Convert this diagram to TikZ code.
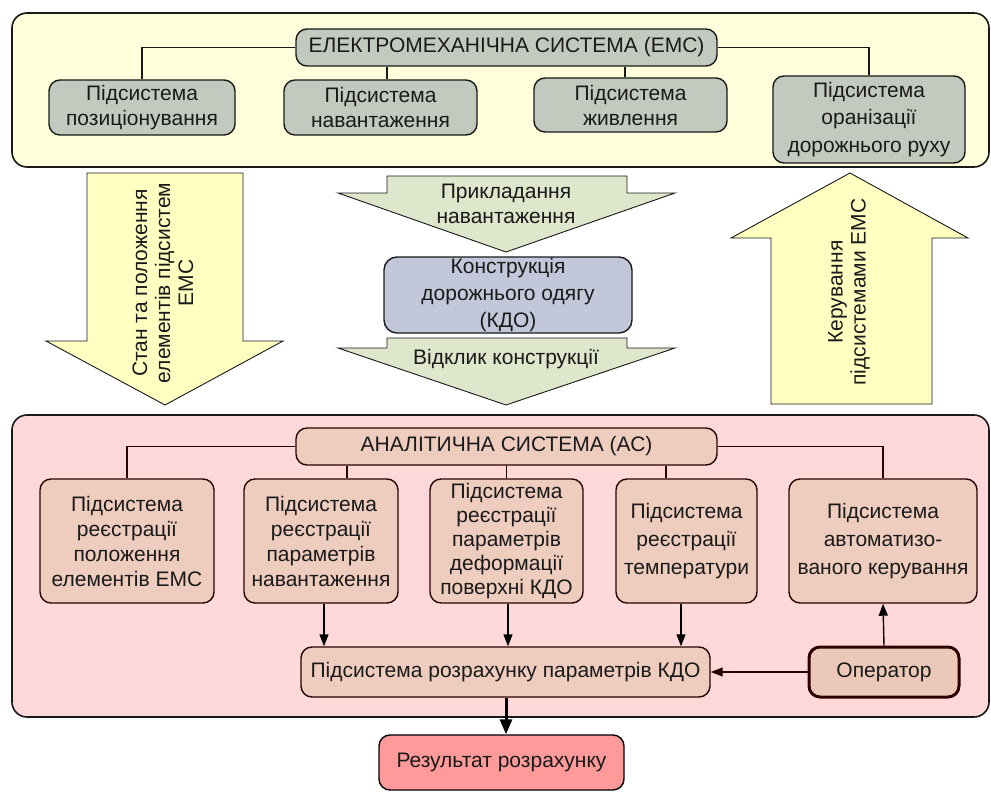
\documentclass[tikz,border=0pt]{standalone}
\usepackage{fontspec}
\setmainfont{Liberation Sans}
\usetikzlibrary{arrows.meta}
\definecolor{topbg}{HTML}{FFFFDC}
\definecolor{botbg}{HTML}{FFD9D9}
\definecolor{emsbox}{HTML}{C2C9BE}
\definecolor{kdobox}{HTML}{C2C8D9}
\definecolor{acbox}{HTML}{EECCBE}
\definecolor{resbox}{HTML}{FF9A9A}
\definecolor{yarrow}{HTML}{FFFFC2}
\definecolor{garrow}{HTML}{DEE6CC}
\definecolor{maroon}{HTML}{2E0000}
\definecolor{txt}{HTML}{1A1A1A}
\begin{document}
\begin{tikzpicture}[x=1pt,y=-1pt,
  every node/.style={font=\fontsize{21}{25}\selectfont, text=txt, align=center, inner sep=0pt},
  sp/.style={font=\fontsize{21}{#1}\selectfont},
  container/.style={draw=black!90, line width=1.6pt, rounded corners=15pt},
  gbox/.style={draw=black!90, line width=1.4pt, fill=emsbox, rounded corners=11pt},
  abox/.style={draw=maroon, line width=1.4pt, fill=acbox, rounded corners=11pt},
  bigarrow/.style={draw=black!90, line width=0.9pt},
  link/.style={draw=black!90, line width=1.4pt},
  alink/.style={draw=maroon, line width=1.4pt},
  darr/.style={draw=black, line width=1.4pt, -{Triangle[length=12pt,width=9pt]}},
]
\useasboundingbox (0,0) rectangle (991,792);

% containers
\draw[container, fill=topbg] (12,13) rectangle (989,167);
\draw[container, fill=botbg] (12,415) rectangle (989,717);

% EMS
\node[gbox, minimum width=421pt, minimum height=37pt] (ems) at (506.5,47.5) {ЕЛЕКТРОМЕХАНІЧНА СИСТЕМА (ЕМС)};
\node[gbox, minimum width=186pt, minimum height=55pt] (pos) at (142,107.5) {Підсистема\\позиціонування};
\node[gbox, minimum width=193pt, minimum height=55pt] (nav) at (380.5,107.5) {Підсистема\\навантаження};
\node[gbox, minimum width=193pt, minimum height=54pt] (zhy) at (630.5,105) {Підсистема\\живлення};
\node[gbox, sp=27.5, minimum width=192pt, minimum height=87pt] (org) at (869,119.5) {Підсистема\\оранізації\\дорожнього руху};
\draw[link] (ems.west) -| (pos.north);
\draw[link] ([xshift=6.5pt]nav.north) -- ([xshift=6.5pt]nav.north |- ems.south);
\draw[link] ([xshift=-5.5pt]zhy.north) -- ([xshift=-5.5pt]zhy.north |- ems.south);
\draw[link] (ems.east) -| (org.north);

% big arrows
\draw[bigarrow, fill=yarrow] (87,173) -- (243,173) -- (243,341) -- (283,341) -- (165,405) -- (46,341) -- (87,341) -- cycle;
\node[rotate=90, sp=23] (stan) at (163,283) {Стан та положення\\елементів підсистем\\ЕМС};
\draw[bigarrow, fill=yarrow] (850,173) -- (968,238) -- (932,238) -- (932,404) -- (771,404) -- (771,238) -- (731,238) -- cycle;
\node[rotate=90, sp=23] (ker) at (849,292) {Керування\\підсистемами ЕМС};
\draw[bigarrow, fill=garrow] (387,176) -- (627,176) -- (627,193) -- (675,193) -- (506,252) -- (338,193) -- (387,193) -- cycle;
\node (prykl) at (506,204) {Прикладання\\навантаження};
\node[draw=black!90, sp=27, line width=1.4pt, fill=kdobox, rounded corners=13pt, minimum width=248pt, minimum height=76pt] (kdo) at (508,295) {Конструкція\\дорожнього одягу\\(КДО)};
\draw[bigarrow, fill=garrow] (387,338) -- (627,338) -- (627,348) -- (675,348) -- (506,405) -- (338,348) -- (387,348) -- cycle;
\node (vidk) at (506,359) {Відклик конструкції};

% AC
\node[abox, minimum width=421pt, minimum height=37pt] (ac) at (506.5,446.5) {АНАЛІТИЧНА СИСТЕМА (АС)};
\node[abox, minimum width=174pt, minimum height=124pt] (b1) at (127,541) {Підсистема\\реєстрації\\положення\\елементів ЕМС};
\node[abox, minimum width=154pt, minimum height=124pt] (b2) at (321,541) {Підсистема\\реєстрації\\параметрів\\навантаження};
\node[abox, sp=24, minimum width=153pt, minimum height=124pt] (b3) at (506.5,541) {Підсистема\\реєстрації\\параметрів\\деформації\\поверхні КДО};
\node[abox, sp=28, minimum width=141pt, minimum height=124pt] (b4) at (686.5,541) {Підсистема\\реєстрації\\температури};
\node[abox, sp=28, minimum width=188pt, minimum height=124pt] (b5) at (883,541) {Підсистема\\автоматизо-\\ваного керування};
\draw[alink] (ac.west) -| (b1.north);
\draw[alink] ([xshift=26pt]b2.north) -- ([xshift=26pt]b2.north |- ac.south);
\draw[alink] (b3.north) -- (ac.south -| b3.north);
\draw[alink] ([xshift=-20.5pt]b4.north) -- ([xshift=-20.5pt]b4.north |- ac.south);
\draw[alink] (ac.east) -| (b5.north);

\node[abox, minimum width=409pt, minimum height=50pt] (calc) at (505.5,672) {Підсистема розрахунку параметрів КДО};
\node[draw=maroon, line width=3pt, fill=acbox!95!brown, rounded corners=11pt, minimum width=150pt, minimum height=50pt] (op) at (884,672) {Оператор};
\draw[darr] ([xshift=3pt]b2.south) -- ([xshift=3pt]b2.south |- calc.north);
\draw[darr] ([xshift=1.5pt]b3.south) -- ([xshift=1.5pt]b3.south |- calc.north);
\draw[darr] ([xshift=-5.5pt]b4.south) -- ([xshift=-5.5pt]b4.south |- calc.north);
\draw[darr] (op.north) -- (b5.south);
\draw[darr, draw=maroon] (op.west) -- (calc.east);

\node[draw=black, line width=1.4pt, fill=resbox, rounded corners=11pt, minimum width=245pt, minimum height=55pt] (res) at (501.5,762.5) {Результат розрахунку};
\draw[draw=black, line width=3pt, -{Triangle[length=15pt,width=12pt]}] ([xshift=0.5pt]calc.south) -- ([xshift=0.5pt]calc.south |- res.north);
\end{tikzpicture}
\end{document}
